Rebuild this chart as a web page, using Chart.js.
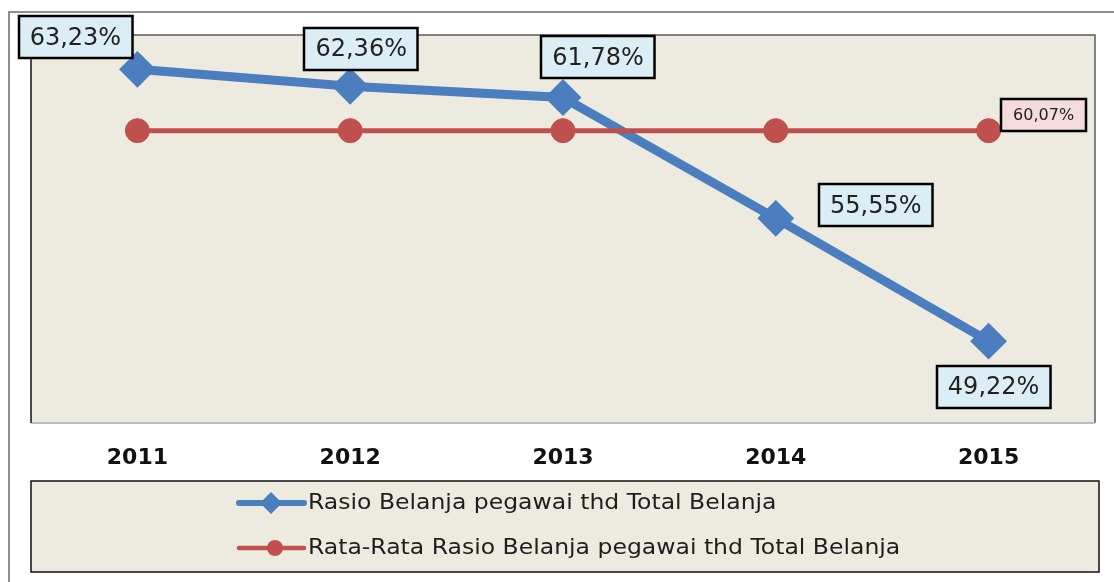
<!DOCTYPE html>
<html>
<head>
<meta charset="utf-8">
<script src="https://cdn.jsdelivr.net/npm/chart.js@4/dist/chart.umd.min.js"></script>
<style>
  html, body { margin: 0; padding: 0; background: #ffffff; }
  #wrap { width: 1114px; height: 582px; position: relative; }
</style>
</head>
<body>
<div id="wrap"><canvas id="c" width="1114" height="582"></canvas></div>
<script>
// Years on the category axis
const years = ['2011', '2012', '2013', '2014', '2015'];
// Personnel spending as a share of total spending (%)
const rasioBelanja = [63.23, 62.36, 61.78, 55.55, 49.22];
// Average ratio over the period (%)
const rataRata = [60.07, 60.07, 60.07, 60.07, 60.07];
// Series names
const labelRasio = 'Rasio Belanja pegawai thd Total Belanja';
const labelRata = 'Rata-Rata Rasio Belanja pegawai thd Total Belanja';

const BLUE = '#4A7EBF';
const RED = '#C0504D';
const PANEL = '#EDEAE0';
const FONT = '"DejaVu Sans", sans-serif';

const fmt = v => v.toFixed(2).replace('.', ',') + '%';

// Where each value label sits relative to its point, plus box styling
const labelStyle = {
  [labelRasio]: {
    fill: '#DCEEF5', size: 24, padX: 11, h: 42,
    offsets: [[-62, -32], [11, -37], [35, -40], [100, -13], [5, 46]]
  },
  [labelRata]: {
    fill: '#F3DCDB', size: 16, padX: 12, h: 32,
    offsets: [null, null, null, null, [55, -16]]
  }
};

// Frame, plot panel, and legend panel
const framePlugin = {
  id: 'frame',
  beforeDraw(chart) {
    const ctx = chart.ctx;
    const a = chart.chartArea;
    ctx.save();
    ctx.fillStyle = '#ffffff';
    ctx.fillRect(0, 0, chart.width, chart.height);
    // outer frame (top and left edges)
    ctx.strokeStyle = '#8f8f8f';
    ctx.lineWidth = 2;
    ctx.beginPath();
    ctx.moveTo(9, chart.height);
    ctx.lineTo(9, 12);
    ctx.lineTo(chart.width, 12);
    ctx.stroke();
    // plot panel
    ctx.fillStyle = PANEL;
    ctx.fillRect(a.left, a.top, a.right - a.left, a.bottom - a.top);
    ctx.lineWidth = 1.5;
    ctx.strokeStyle = '#5c5c5c';
    ctx.beginPath();
    ctx.moveTo(a.left, a.top);
    ctx.lineTo(a.right, a.top);
    ctx.lineTo(a.right, a.bottom);
    ctx.stroke();
    ctx.strokeStyle = '#a8a8a8';
    ctx.beginPath();
    ctx.moveTo(a.left, a.bottom);
    ctx.lineTo(a.right, a.bottom);
    ctx.stroke();
    ctx.strokeStyle = '#111111';
    ctx.beginPath();
    ctx.moveTo(a.left, a.top);
    ctx.lineTo(a.left, a.bottom);
    ctx.stroke();
    ctx.restore();
  },
  afterDraw(chart) {
    const ctx = chart.ctx;
    ctx.save();
    // legend panel
    const lx = 31, ly = 481, lw = 1068, lh = 91;
    ctx.fillStyle = PANEL;
    ctx.fillRect(lx, ly, lw, lh);
    ctx.strokeStyle = '#111111';
    ctx.lineWidth = 1.5;
    ctx.strokeRect(lx, ly, lw, lh);

    const rows = [
      { ds: chart.data.datasets[1], y: 503, lw: 6, marker: 'diamond', r: 11, mx: 271 },
      { ds: chart.data.datasets[0], y: 548, lw: 4.5, marker: 'circle', r: 8, mx: 275 }
    ];
    rows.forEach(row => {
      ctx.strokeStyle = row.ds.borderColor;
      ctx.fillStyle = row.ds.borderColor;
      ctx.lineWidth = row.lw;
      ctx.lineCap = 'round';
      ctx.beginPath();
      ctx.moveTo(239, row.y);
      ctx.lineTo(304, row.y);
      ctx.stroke();
      ctx.beginPath();
      if (row.marker === 'diamond') {
        ctx.moveTo(row.mx, row.y - row.r);
        ctx.lineTo(row.mx + row.r, row.y);
        ctx.lineTo(row.mx, row.y + row.r);
        ctx.lineTo(row.mx - row.r, row.y);
        ctx.closePath();
      } else {
        ctx.arc(row.mx, row.y, row.r, 0, Math.PI * 2);
      }
      ctx.fill();
      // legend text, set slightly wide
      ctx.save();
      ctx.translate(308, row.y + 1);
      ctx.scale(1.12, 1);
      ctx.fillStyle = '#1e1e1e';
      ctx.font = '21px ' + FONT;
      ctx.textAlign = 'left';
      ctx.textBaseline = 'middle';
      ctx.fillText(row.ds.label, 0, 0);
      ctx.restore();
    });
    ctx.restore();
  }
};

// Boxed value labels next to the points
const valueLabels = {
  id: 'valueLabels',
  afterDatasetsDraw(chart) {
    const ctx = chart.ctx;
    ctx.save();
    chart.data.datasets.forEach((ds, di) => {
      const st = labelStyle[ds.label];
      if (!st) return;
      const meta = chart.getDatasetMeta(di);
      meta.data.forEach((pt, i) => {
        const off = st.offsets[i];
        if (!off) return;
        const txt = fmt(ds.data[i]);
        ctx.font = st.size + 'px ' + FONT;
        const tw = ctx.measureText(txt).width;
        const w = tw + st.padX * 2;
        const cx = pt.x + off[0], cy = pt.y + off[1];
        const x0 = Math.round(cx - w / 2), y0 = Math.round(cy - st.h / 2);
        ctx.fillStyle = st.fill;
        ctx.fillRect(x0, y0, w, st.h);
        ctx.strokeStyle = '#000000';
        ctx.lineWidth = 2.5;
        ctx.strokeRect(x0, y0, w, st.h);
        ctx.fillStyle = '#222222';
        ctx.textAlign = 'center';
        ctx.textBaseline = 'middle';
        ctx.fillText(txt, cx, cy + 1);
      });
    });
    ctx.restore();
  }
};

new Chart(document.getElementById('c'), {
  type: 'line',
  data: {
    labels: years,
    datasets: [
      {
        label: labelRata,
        data: rataRata,
        borderColor: RED,
        backgroundColor: RED,
        borderWidth: 5,
        pointStyle: 'circle',
        pointRadius: 12,
        pointBorderWidth: 1,
        pointBackgroundColor: RED,
        pointBorderColor: RED,
        tension: 0
      },
      {
        label: labelRasio,
        data: rasioBelanja,
        borderColor: BLUE,
        backgroundColor: BLUE,
        borderWidth: 9,
        pointStyle: 'rectRot',
        pointRadius: 17,
        pointBorderWidth: 2,
        pointBackgroundColor: BLUE,
        pointBorderColor: BLUE,
        tension: 0
      }
    ]
  },
  options: {
    responsive: false,
    animation: false,
    devicePixelRatio: 1,
    layout: { padding: { left: 31, right: 17, top: 35, bottom: 0 } },
    plugins: {
      legend: { display: false },
      tooltip: { enabled: false }
    },
    scales: {
      x: {
        offset: true,
        grid: { display: false, drawTicks: false },
        border: { display: false },
        ticks: {
          color: '#111111',
          font: { family: FONT, size: 22, weight: 'bold' },
          padding: 22
        },
        afterFit(scale) { scale.height = 159; }
      },
      y: {
        display: false,
        min: 45,
        max: 65
      }
    }
  },
  plugins: [framePlugin, valueLabels]
});
</script>
</body>
</html>
